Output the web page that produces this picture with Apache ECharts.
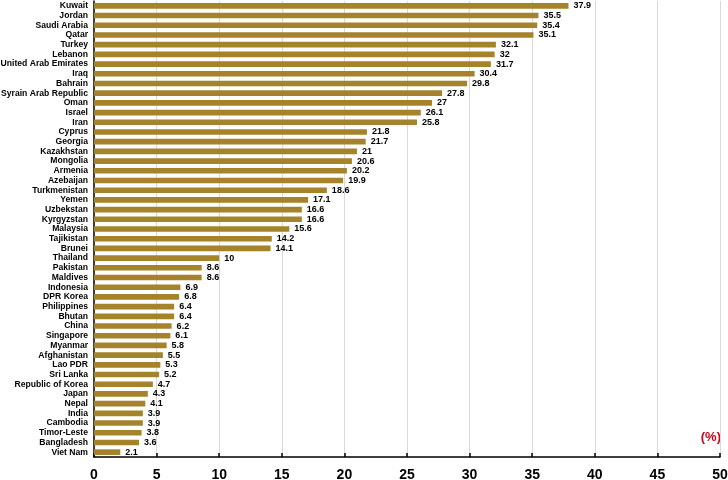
<!DOCTYPE html>
<html>
<head>
<meta charset="utf-8">
<script src="https://cdn.jsdelivr.net/npm/echarts@6/dist/echarts.min.js"></script>
<style>
  html, body { margin: 0; padding: 0; background: #fff; }
  #main { width: 728px; height: 480px; }
</style>
</head>
<body>
<div id="main"></div>
<script>
// 国家 (top to bottom)
const countries = [
  "Kuwait", "Jordan", "Saudi Arabia", "Qatar", "Turkey", "Lebanon",
  "United Arab Emirates", "Iraq", "Bahrain", "Syrain Arab Republic", "Oman",
  "Israel", "Iran", "Cyprus", "Georgia", "Kazakhstan", "Mongolia", "Armenia",
  "Azebaijan", "Turkmenistan", "Yemen", "Uzbekstan", "Kyrgyzstan", "Malaysia",
  "Tajikistan", "Brunei", "Thailand", "Pakistan", "Maldives", "Indonesia",
  "DPR Korea", "Philippines", "Bhutan", "China", "Singapore", "Myanmar",
  "Afghanistan", "Lao PDR", "Sri Lanka", "Republic of Korea", "Japan", "Nepal",
  "India", "Cambodia", "Timor-Leste", "Bangladesh", "Viet Nam"
];
const values = [
  37.9, 35.5, 35.4, 35.1, 32.1, 32, 31.7, 30.4, 29.8, 27.8, 27,
  26.1, 25.8, 21.8, 21.7, 21, 20.6, 20.2, 19.9, 18.6, 17.1, 16.6,
  16.6, 15.6, 14.2, 14.1, 10, 8.6, 8.6, 6.9, 6.8, 6.4, 6.4, 6.2,
  6.1, 5.8, 5.5, 5.3, 5.2, 4.7, 4.3, 4.1, 3.9, 3.9, 3.8, 3.6, 2.1
];
const xTicks = { min: 0, max: 50, interval: 5 };

const labelFont = "'Liberation Sans', Arial, sans-serif";

let myChart = echarts.init(document.getElementById("main"));
let option = {
  animation: false,
  textStyle: { fontFamily: labelFont },
  grid: { left: 94, right: 8, top: 1, bottom: 23, containLabel: false, outerBoundsMode: "none" },
  xAxis: {
    type: "value",
    min: xTicks.min,
    max: xTicks.max,
    interval: xTicks.interval,
    axisLine: { show: true, lineStyle: { color: "#000", width: 1.5 } },
    axisTick: { show: true, inside: true, length: 4, lineStyle: { color: "#000", width: 1.5 } },
    axisLabel: { color: "#000", fontSize: 14, fontWeight: "bold", margin: 11 },
    splitLine: { show: true, lineStyle: { color: "#d9d9d9", width: 1 } }
  },
  yAxis: {
    type: "category",
    data: countries,
    inverse: true,
    axisLine: { show: true, lineStyle: { color: "#000", width: 1.5 } },
    axisTick: { show: false },
    axisLabel: {
      color: "#000", fontSize: 8.6, fontWeight: "bold", fontFamily: labelFont,
      margin: 6, interval: 0
    }
  },
  graphic: [
    {
      type: "text",
      right: 7,
      top: 431,
      style: { text: "(%)", fill: "#d0021b", font: "bold 13px 'Liberation Sans', sans-serif" }
    }
  ],
  series: [
    {
      type: "bar",
      data: values,
      barWidth: "58%",
      itemStyle: { color: "#a5832a" },
      label: {
        show: true,
        position: "right",
        distance: 5,
        color: "#000",
        fontSize: 9,
        fontWeight: "bold",
        fontFamily: labelFont
      }
    }
  ]
};
myChart.setOption(option);
</script>
</body>
</html>
